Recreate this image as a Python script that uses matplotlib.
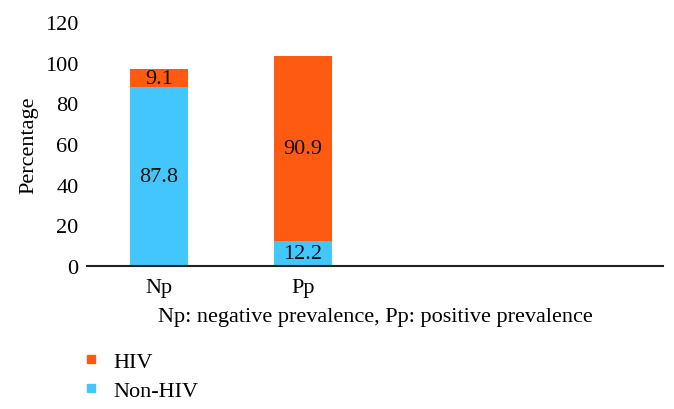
import matplotlib
matplotlib.use("Agg")
import matplotlib.pyplot as plt
from matplotlib.lines import Line2D

categories = ["Np", "Pp"]
non_hiv = [87.8, 12.2]
hiv = [9.1, 90.9]
series_names = ["HIV", "Non-HIV"]
yticks = [0, 20, 40, 60, 80, 100, 120]

c_hiv = "#FF5A12"
c_non = "#42C6FB"
FS = 16

plt.rcParams["font.family"] = ["Liberation Serif", "DejaVu Serif"]

fig = plt.figure(figsize=(6.74, 4.10), dpi=100)
ax = fig.add_axes([87/674, 1-267/410, 576/674, 244/410])

x = list(range(len(categories)))
ax.bar(x, non_hiv, width=0.4, color=c_non, zorder=2)
ax.bar(x, hiv, width=0.4, bottom=non_hiv, color=c_hiv, zorder=2)

for i in x:
    ax.text(i, non_hiv[i]/2, f"{non_hiv[i]}", ha="center", va="center", fontsize=FS, color="#111111")
    ax.text(i, non_hiv[i] + hiv[i]/2, f"{hiv[i]}", ha="center", va="center", fontsize=FS, color="#111111")

ax.set_xlim(-0.5, 3.5)
ax.set_ylim(0, 120)
ax.set_yticks(yticks)
ax.set_yticklabels([str(t) for t in yticks], fontsize=FS)
ax.set_xticks(x)
ax.set_xticklabels(categories, fontsize=FS)
ax.tick_params(axis="x", length=0, pad=9)
ax.tick_params(axis="y", length=0, pad=6)
for s in ["top", "right", "left"]:
    ax.spines[s].set_visible(False)
ax.spines["bottom"].set_linewidth(1.5)
ax.spines["bottom"].set_color("#222222")
ax.set_ylabel("Percentage", fontsize=FS, labelpad=5)

fig.text(375/674, 1-322/410, "Np: negative prevalence, Pp: positive prevalence",
         ha="center", va="baseline", fontsize=FS)

handles = [Line2D([], [], marker="s", linestyle="none", markersize=6, color=c) for c in (c_hiv, c_non)]
fig.legend(handles, series_names, loc="upper left", bbox_to_anchor=(80/674, 1-352/410),
           frameon=False, fontsize=FS, handletextpad=0.5, labelspacing=0.4,
           handlelength=1.0, borderaxespad=0, borderpad=0)

fig.savefig("out.png", dpi=100)
